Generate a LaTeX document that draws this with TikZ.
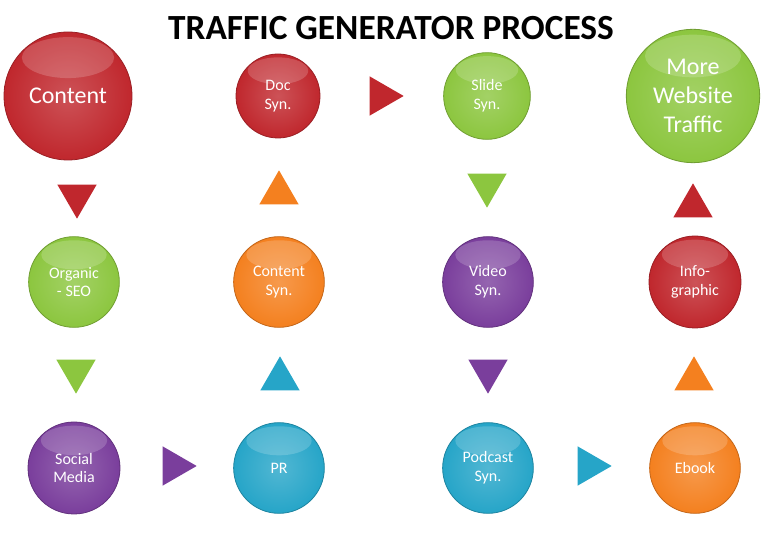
\documentclass[tikz,border=0pt]{standalone}
\usepackage{fontspec}
\setmainfont{Carlito}
\usetikzlibrary{shapes.geometric}
\definecolor{cred}{HTML}{C0272D}
\definecolor{cgreen}{HTML}{8CC63F}
\definecolor{corange}{HTML}{F4801F}
\definecolor{cpurple}{HTML}{7A3E9C}
\definecolor{cteal}{HTML}{26A5C8}
\tikzset{
  ball/.style args={#1/#2}{circle,minimum size=#2pt,inner sep=0pt,text=white,align=center,font=\fontsize{12}{14}\selectfont,
    draw=#1!80!black,line width=0.6pt,
    inner color=#1!80!white,outer color=#1,
    path picture={\fill[white,opacity=0.18] ([yshift=-0.2*#2pt]path picture bounding box.north) ellipse ({0.36*#2pt} and {0.16*#2pt});}},
  tri/.style={regular polygon,regular polygon sides=3,minimum size=34pt,inner sep=0pt,fill=#1},
}
\begin{document}
\begin{tikzpicture}[x=0.75pt,y=-0.75pt]
\useasboundingbox (0,0) rectangle (768,559);
\node[font=\bfseries\fontsize{26.5}{30}\selectfont] (title) at (391,28) {TRAFFIC GENERATOR PROCESS};
% row 1
\node[ball=cred/96,font=\fontsize{18}{21}\selectfont] (content) at (68,96) {Content};
\node[ball=cred/63] (doc) at (278,96) {Doc\\Syn.};
\node[ball=cgreen/65] (slide) at (487,96) {Slide\\Syn.};
\node[ball=cgreen/100,font=\fontsize{18}{22}\selectfont] (more) at (693,96) {More\\Website\\Traffic};
% row 2
\node[ball=cgreen/68] (org) at (74,282) {Organic\\- SEO};
\node[ball=corange/68] (csyn) at (279,282) {Content\\Syn.};
\node[ball=cpurple/68] (video) at (488,282) {Video\\Syn.};
\node[ball=cred/69] (info) at (695,282) {Info-\\graphic};
% row 3
\node[ball=cpurple/69] (social) at (74,468) {Social\\Media};
\node[ball=cteal/68] (pr) at (279,468) {PR};
\node[ball=cteal/68] (pod) at (488,468) {Podcast\\Syn.};
\node[ball=corange/68] (ebook) at (695,468) {Ebook};
% triangles
\node[tri=cred,shape border rotate=180] (t1) at (77,196) {};
\node[tri=corange] (t2) at (279,193) {};
\node[tri=cred,shape border rotate=-90] (t3) at (381,96) {};
\node[tri=cgreen,shape border rotate=180] (t4) at (487,185) {};
\node[tri=cred] (t5) at (693,206) {};
\node[tri=cgreen,shape border rotate=180] (t6) at (76,371) {};
\node[tri=cteal] (t7) at (280,379) {};
\node[tri=cpurple,shape border rotate=180] (t8) at (488,371) {};
\node[tri=corange] (t9) at (694,379) {};
\node[tri=cpurple,shape border rotate=-90] (t10) at (174,466) {};
\node[tri=cteal,shape border rotate=-90] (t11) at (589,466) {};
\end{tikzpicture}
\end{document}
